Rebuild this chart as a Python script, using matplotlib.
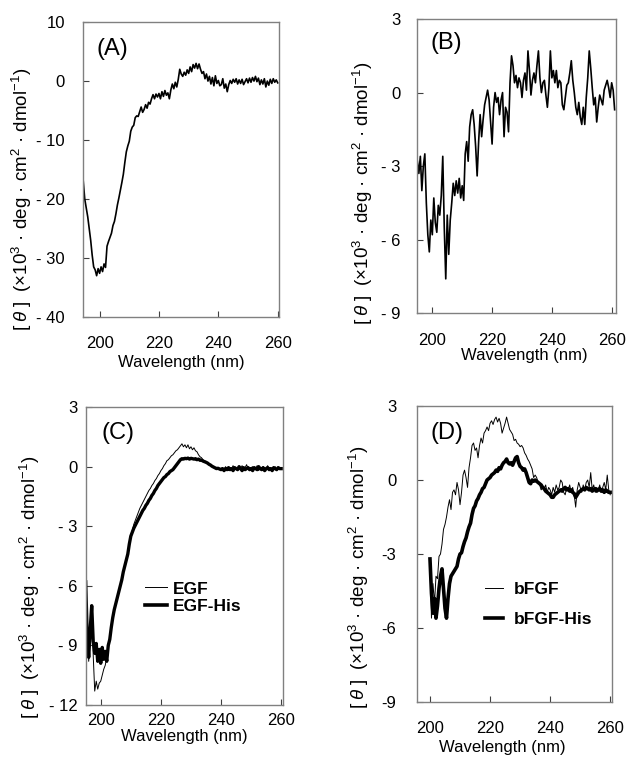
import numpy as np
import matplotlib
matplotlib.use('Agg')
import matplotlib.pyplot as plt
from matplotlib.lines import Line2D

plt.rcParams['font.family'] = ['Liberation Sans', 'DejaVu Sans']
plt.rcParams['mathtext.fontset'] = 'custom'
plt.rcParams['mathtext.rm'] = 'Liberation Sans'
plt.rcParams['mathtext.it'] = 'Liberation Sans:italic'

# ---- data: CD spectra, 0.5 nm steps ----
a_start = 194.5
a_theta = [
    -17.0,
    -20.0, -21.5, -23.0, -25.0, -27.0, -29.5, -31.5, -32.0, -33.0, -31.8,
    -32.6, -31.5, -32.3, -31.0, -31.6, -28.0, -27.2, -26.5, -25.8, -24.5,
    -23.8, -22.5, -21.0, -19.8, -18.5, -17.2, -15.8, -13.8, -12.0, -11.0,
    -10.2, -8.5, -7.8, -7.5, -6.2, -5.9, -6.0, -5.2, -4.4, -5.3,
    -4.8, -4.0, -4.6, -3.6, -3.9, -3.0, -2.3, -3.0, -2.2, -2.7,
    -2.1, -3.0, -1.8, -2.6, -1.6, -2.4, -2.0, -3.0, -1.5, -0.5,
    -1.3, -0.2, -1.0, 0.3, 2.0, 1.2, 0.8, 1.5, 1.0, 1.9,
    1.3, 2.4, 1.6, 2.8, 2.2, 3.0, 2.1, 2.9, 2.0, 1.3,
    1.6, 0.4, 1.2, 0.0, 0.8, -0.5, 0.6, -0.8, 0.9, -0.4,
    0.1, -0.8, -0.6, 0.4, -1.2, -0.5, -1.8, -0.6, 0.1, -0.4,
    0.3, -0.2, 0.4, -0.5, 0.2, -0.4, 0.3, -0.6, -0.1, 0.4,
    -0.3, 0.5, -0.2, 0.6, 0.0, 0.8, -0.1, 0.5, -0.6, 0.2,
    -0.5, 0.4, -1.0, 0.0, -0.7, 0.3, -0.4, 0.4, -0.2, 0.2, -0.3,
]

b_start = 195.0
b_theta = [
    -2.8, -3.3, -2.6, -4.0, -3.0, -2.5, -4.5, -5.8, -6.5, -5.2,
    -5.8, -4.3, -5.3, -5.7, -4.6, -5.0, -4.2, -2.6, -5.5, -7.6,
    -5.0, -6.6, -5.2, -4.5, -3.7, -4.2, -3.6, -4.1, -3.5, -4.3,
    -3.8, -4.4, -2.5, -2.0, -2.8, -1.4, -0.9, -0.7, -1.3, -2.2,
    -3.4, -2.0, -0.9, -1.8, -1.1, -0.5, -0.2, 0.1, -0.3, -1.2,
    -2.1, -0.6, 0.0, -0.4, -0.2, -0.9, -0.3, 0.0, -1.8, -0.6,
    -0.8, -1.6, 0.4, 1.5, 1.1, 0.4, 0.7, 0.2, 0.6, 0.4,
    -0.2, 0.5, 0.8, 0.1, 1.7, 0.9, -0.1, 0.5, 0.8, 0.4,
    1.1, 1.7, 0.6, 0.0, 0.4, 0.5, -0.1, -0.6, 0.2, 1.7,
    0.6, 0.9, 0.4, 0.9, 0.2, 0.5, 0.4, -0.5, -0.7, -0.2,
    0.3, 0.4, 0.8, 1.3, 0.5, 0.0, -0.6, -0.9, -0.4, -1.0,
    -1.3, -0.6, -1.3, -0.2, 0.6, 1.7, 1.0, 0.2, -0.5, -0.2,
    -1.2, -0.6, -0.1, -0.3, -0.5, 0.1, 0.3, 0.5, 0.2, -0.2,
    0.4, 0.1, -0.7,
]

c_start = 195.0
egf = [
    -5.5, -8.0, -9.8, -8.5, -7.2, -9.5, -11.3, -10.8, -11.2, -10.9,
    -10.8, -10.5, -10.2, -10.0, -9.6, -9.2, -8.6, -8.1, -7.6, -7.2,
    -6.9, -6.6, -6.3, -6.0, -5.7, -5.3, -5.0, -4.7, -4.4, -3.9,
    -3.5, -3.2, -2.9, -2.7, -2.5, -2.3, -2.1, -1.95, -1.8, -1.65,
    -1.5, -1.35, -1.2, -1.1, -0.95, -0.85, -0.7, -0.6, -0.45, -0.35,
    -0.2, -0.1, 0.05, 0.15, 0.3, 0.35, 0.45, 0.55, 0.6, 0.7,
    0.8, 0.85, 0.95, 1.05, 1.15, 1.0, 1.1, 0.95, 1.1, 0.9,
    1.0, 0.85, 0.95, 0.8, 0.75, 0.6, 0.5, 0.45, 0.35, 0.3,
    0.25, 0.2, 0.15, 0.1, 0.05, 0.0, -0.05, -0.1, -0.05, -0.15,
    -0.10, -0.05, -0.15, 0.00, -0.10, -0.20, -0.05, -0.10, 0.05, -0.15,
    -0.05, -0.20, 0.00, -0.10, 0.05, -0.15, -0.05, 0.10, -0.10, -0.20,
    -0.05, 0.00, -0.15, -0.10, 0.05, -0.20, -0.05, -0.10, 0.00, -0.20,
    -0.10, 0.05, -0.15, -0.05, -0.20, -0.10, 0.00, -0.15, -0.05, -0.10,
    -0.05,
]
egf_his = [
    -5.8, -8.5, -9.6, -8.2, -7.0, -8.8, -9.4, -8.9, -9.8, -9.2,
    -9.9, -9.1, -9.7, -9.3, -9.8, -9.0, -8.7, -8.1, -7.6, -7.2,
    -6.9, -6.6, -6.3, -6.0, -5.7, -5.3, -5.0, -4.7, -4.4, -3.9,
    -3.5, -3.3, -3.1, -2.95, -2.8, -2.65, -2.5, -2.35, -2.2, -2.1,
    -1.95, -1.85, -1.7, -1.6, -1.45, -1.35, -1.2, -1.1, -0.95, -0.85,
    -0.75, -0.65, -0.55, -0.5, -0.4, -0.35, -0.25, -0.2, -0.15, -0.05,
    0.05, 0.15, 0.25, 0.35, 0.4, 0.38, 0.42, 0.4, 0.43, 0.38,
    0.42, 0.4, 0.38, 0.4, 0.35, 0.38, 0.32, 0.33, 0.28, 0.25,
    0.22, 0.18, 0.12, 0.08, 0.02, -0.02, -0.06, -0.10, -0.08, -0.12,
    -0.15, -0.10, -0.20, -0.10, -0.15, -0.05, -0.15, -0.10, -0.20, -0.05,
    -0.10, -0.15, 0.00, -0.10, -0.20, -0.05, -0.15, -0.10, -0.05, -0.15,
    -0.10, -0.20, -0.05, -0.10, -0.15, 0.00, -0.10, -0.15, -0.05, -0.20,
    -0.10, -0.05, -0.15, -0.10, -0.20, -0.05, -0.10, -0.15, -0.05, -0.10,
    -0.10,
]

d_start = 200.0
bfgf = [
    -3.5, -5.6, -4.2, -5.0, -3.9, -4.0, -3.1, -3.0, -2.6, -2.0,
    -1.8, -1.5, -1.1, -0.8, -1.2, -0.5, -0.4, -0.6, -0.1, -0.4,
    -1.0, -0.5, 0.2, 0.4, 0.1, -0.3, 0.5, 0.9, 1.4, 1.5,
    1.2, 1.3, 0.9, 1.4, 1.7, 1.5, 1.9, 2.0, 2.15, 2.0,
    2.3, 2.4, 2.25, 2.45, 2.55, 2.35, 2.5, 2.3, 1.9, 2.1,
    2.3, 2.55, 2.3, 2.05, 1.95, 1.85, 1.6, 1.65, 1.5, 1.45,
    1.35, 1.4, 1.3, 1.1, 1.0, 0.85, 0.75, 0.6, 0.45, 0.1,
    0.2, 0.1, -0.1, -0.2, -0.4, -0.3, -0.35, -0.2, -0.5, -0.3,
    -0.4, -0.6, -0.3, -0.5, -0.2, -0.4, -0.3, 0.0, -0.1, -0.5,
    -0.6, -0.3, -0.4, -0.2, -0.5, -0.3, -0.6, -1.1, -0.4, -0.1,
    -0.3, -0.5, -0.2, -0.4, -0.1, 0.0, -0.3, 0.3, -0.4, -0.2,
    -0.5, -0.3, -0.4, -0.2, -0.5, -0.3, -0.1, -0.4, 0.2, -0.4,
    -0.6,
]
bfgf_his = [
    -3.2, -4.6, -5.4, -4.8, -5.6, -5.1, -4.4, -3.9, -3.6, -4.4,
    -5.2, -5.6, -4.8, -4.2, -3.9, -3.8, -3.7, -3.6, -3.5, -3.2,
    -3.0, -2.95, -2.7, -2.5, -2.35, -2.1, -1.9, -1.75, -1.4, -1.15,
    -1.05, -0.85, -0.75, -0.6, -0.5, -0.35, -0.3, -0.15, 0.0, 0.05,
    0.1, 0.2, 0.25, 0.3, 0.4, 0.35, 0.5, 0.45, 0.6, 0.7,
    0.75, 0.85, 0.7, 0.65, 0.7, 0.6, 0.75, 0.9, 0.95, 0.7,
    0.55, 0.5, 0.4, 0.45, 0.3, 0.1, -0.1, -0.15, 0.0, -0.05,
    0.0, -0.05, -0.1, -0.15, -0.2, -0.3, -0.35, -0.45, -0.5, -0.55,
    -0.6, -0.7, -0.7, -0.6, -0.55, -0.5, -0.45, -0.4, -0.45, -0.35,
    -0.3, -0.4, -0.35, -0.45, -0.4, -0.5, -0.55, -0.7, -0.6, -0.5,
    -0.45, -0.4, -0.35, -0.4, -0.3, -0.35, -0.4, -0.35, -0.45, -0.4,
    -0.35, -0.45, -0.4, -0.35, -0.45, -0.4, -0.5, -0.4, -0.45, -0.5,
    -0.5,
]

step = 0.5
ylabel = r'$[\;\theta\;]$  (×10$^{3}$ · deg · cm$^{2}$ · dmol$^{-1}$)'


def wl(start, vals):
    return start + step * np.arange(len(vals))


def style(ax, xlim, ylim, yticks, ylabels, xpad, ypad, ylab_xy, xlab_xy, tag, tag_xy):
    ax.set_xlim(*xlim)
    ax.set_ylim(*ylim)
    ax.set_xticks([200, 220, 240, 260])
    ax.set_yticks(yticks)
    ax.set_yticklabels(ylabels)
    ax.tick_params(axis='x', direction='in', length=4, width=0.8, pad=xpad,
                   labelsize=12, color='#404040', top=False)
    ax.tick_params(axis='y', direction='in', length=4, width=0.8, pad=ypad,
                   labelsize=12, color='#404040', right=False)
    for sp in ax.spines.values():
        sp.set_color('#808080')
        sp.set_linewidth(1.0)
    ax.set_ylabel(ylabel, fontsize=13.5)
    ax.yaxis.set_label_coords(*ylab_xy)
    ax.yaxis.label.set_va('center')
    ax.set_xlabel('Wavelength (nm)', fontsize=12)
    ax.xaxis.set_label_coords(*xlab_xy)
    ax.xaxis.label.set_va('center')
    ax.text(tag_xy[0], tag_xy[1], tag, transform=ax.transAxes,
            fontsize=17, ha='left', va='center')


fig = plt.figure(figsize=(6.3, 7.62), dpi=100)

axA = fig.add_axes([0.1317, 0.584, 0.311, 0.387])
axA.plot(wl(a_start, a_theta), a_theta, color='black', lw=1.2)
style(axA, (194.4, 260.4), (-40, 10), [10, 0, -10, -20, -30, -40],
      ['10', '0', '- 10', '- 20', '- 30', '- 40'], 14, 13,
      (-0.311, 0.40), (0.5, -0.153), '(A)', (0.07, 0.91))

axB = fig.add_axes([0.662, 0.589, 0.316, 0.386])
axB.plot(wl(b_start, b_theta), b_theta, color='black', lw=1.2)
style(axB, (194.9, 261.5), (-9, 3), [3, 0, -3, -6, -9],
      ['3', '0', '- 3', '- 6', '- 9'], 14, 12,
      (-0.271, 0.408), (0.538, -0.143), '(B)', (0.065, 0.918))

axC = fig.add_axes([0.1365, 0.0748, 0.3127, 0.391])
axC.plot(wl(c_start, egf), egf, color='black', lw=0.7)
axC.plot(wl(c_start, egf_his), egf_his, color='black', lw=2.4)
style(axC, (195.1, 260.6), (-12, 3), [3, 0, -3, -6, -9, -12],
      ['3', '0', '- 3', '- 6', '- 9', '- 12'], 6, 6,
      (-0.284, 0.396), (0.5, -0.107), '(C)', (0.08, 0.913))
hC = [Line2D([], [], color='black', lw=0.7), Line2D([], [], color='black', lw=2.6)]
axC.legend(hC, ['EGF', 'EGF-His'], loc='upper left', bbox_to_anchor=(0.30, 0.415),
           frameon=False, borderpad=0, borderaxespad=0, handlelength=1.25,
           handletextpad=0.35, labelspacing=0.15, prop={'weight': 'bold', 'size': 12.5})

axD = fig.add_axes([0.662, 0.0787, 0.3095, 0.3885])
axD.plot(wl(d_start, bfgf), bfgf, color='black', lw=0.7)
axD.plot(wl(d_start, bfgf_his), bfgf_his, color='black', lw=2.6)
style(axD, (195.7, 260.6), (-9, 3), [3, 0, -3, -6, -9],
      ['3', '0', '-3', '-6', '-9'], 14, 15,
      (-0.30, 0.42), (0.436, -0.155), '(D)', (0.067, 0.909))
hD = [Line2D([], [], color='black', lw=0.7), Line2D([], [], color='black', lw=2.6)]
axD.legend(hD, ['bFGF', 'bFGF-His'], loc='upper left', bbox_to_anchor=(0.349, 0.405),
           frameon=False, borderpad=0, borderaxespad=0, handlelength=1.05,
           handletextpad=0.6, labelspacing=0.85, prop={'weight': 'bold', 'size': 12.5})

fig.savefig('out.png', dpi=100)
